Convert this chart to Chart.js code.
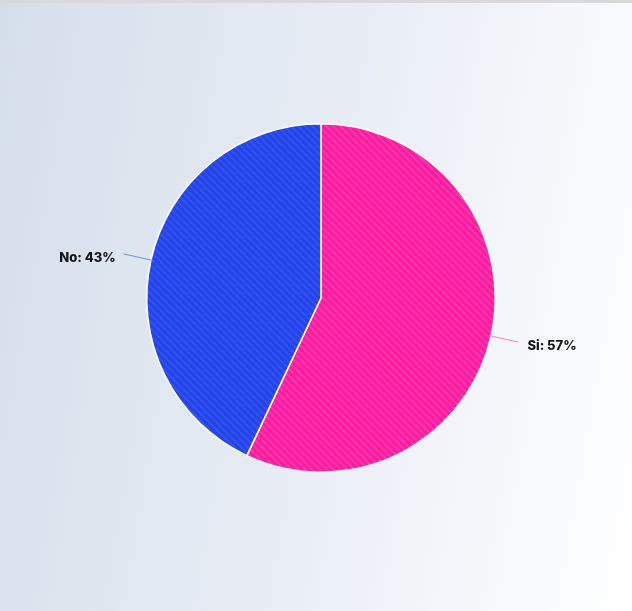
<!DOCTYPE html>
<html lang="es">
<head>
    <meta charset="UTF-8">
    <title>Si / No</title>
    <script src="https://cdn.jsdelivr.net/npm/chart.js"></script>
    <style>
        html, body {
            margin: 0;
            padding: 0;
        }
        body {
            width: 632px;
            height: 611px;
            border-top: 3px solid #d9d9d9;
            box-sizing: border-box;
            background: linear-gradient(100deg, #d4deea 0%, #e8edf5 50%, #ffffff 100%);
            overflow: hidden;
        }
        #wrap {
            position: relative;
            width: 632px;
            height: 608px;
        }
    </style>
</head>
<body>
    <div id="wrap"><canvas id="myChart"></canvas></div>

    <script>
        const labels = ['Si', 'No'];
        const values = [57, 43];
        const baseColors = ['#ff1aa0', '#2244e8'];
        const stripeColors = ['rgba(255,100,190,0.4)', 'rgba(75,105,255,0.4)'];
        const leaderColors = ['#ff7ac8', '#6f8cf0'];

        // striped fill like the original
        function makeStripes(base, stripe) {
            const size = 7;
            const c = document.createElement('canvas');
            c.width = size;
            c.height = size;
            const g = c.getContext('2d');
            g.fillStyle = base;
            g.fillRect(0, 0, size, size);
            g.strokeStyle = stripe;
            g.lineWidth = 2;
            g.beginPath();
            g.moveTo(0, 0); g.lineTo(size, size);
            g.moveTo(-size, 0); g.lineTo(size, size * 2);
            g.moveTo(0, -size); g.lineTo(size * 2, size);
            g.stroke();
            return g.createPattern(c, 'repeat');
        }

        // labels outside the slices with a short line
        const outLabels = {
            id: 'outLabels',
            afterDatasetsDraw(chart) {
                const ctx = chart.ctx;
                const meta = chart.getDatasetMeta(0);
                ctx.save();
                ctx.font = '800 13px Inter, "Open Sans", sans-serif';
                ctx.textBaseline = 'middle';
                meta.data.forEach((arc, i) => {
                    const p = arc.getProps(['x', 'y', 'startAngle', 'endAngle', 'outerRadius'], true);
                    const mid = (p.startAngle + p.endAngle) / 2;
                    const cos = Math.cos(mid), sin = Math.sin(mid);
                    const r1 = p.outerRadius - 2, r2 = p.outerRadius + 28;
                    ctx.strokeStyle = leaderColors[i];
                    ctx.lineWidth = 1;
                    ctx.beginPath();
                    ctx.moveTo(p.x + cos * r1, p.y + sin * r1);
                    ctx.lineTo(p.x + cos * r2, p.y + sin * r2);
                    ctx.stroke();
                    const tx = p.x + cos * r2 + (cos >= 0 ? 9 : -8);
                    const ty = p.y + sin * r2 + 4;
                    ctx.fillStyle = '#151515';
                    ctx.textAlign = cos >= 0 ? 'left' : 'right';
                    ctx.fillText(labels[i] + ': ' + values[i] + '%', tx, ty);
                });
                ctx.restore();
            }
        };

        const ctx = document.getElementById('myChart').getContext('2d');
        new Chart(ctx, {
            type: 'pie',
            data: {
                labels: labels,
                datasets: [{
                    data: values,
                    backgroundColor: baseColors.map((c, i) => makeStripes(c, stripeColors[i])),
                    borderColor: '#ffffff',
                    borderWidth: 1.5
                }]
            },
            options: {
                responsive: true,
                maintainAspectRatio: false,
                animation: false,
                layout: {
                    padding: { left: 10, right: 0, top: 120, bottom: 138 }
                },
                plugins: {
                    legend: { display: false },
                    tooltip: { enabled: false }
                }
            },
            plugins: [outLabels]
        });
    </script>
</body>
</html>
